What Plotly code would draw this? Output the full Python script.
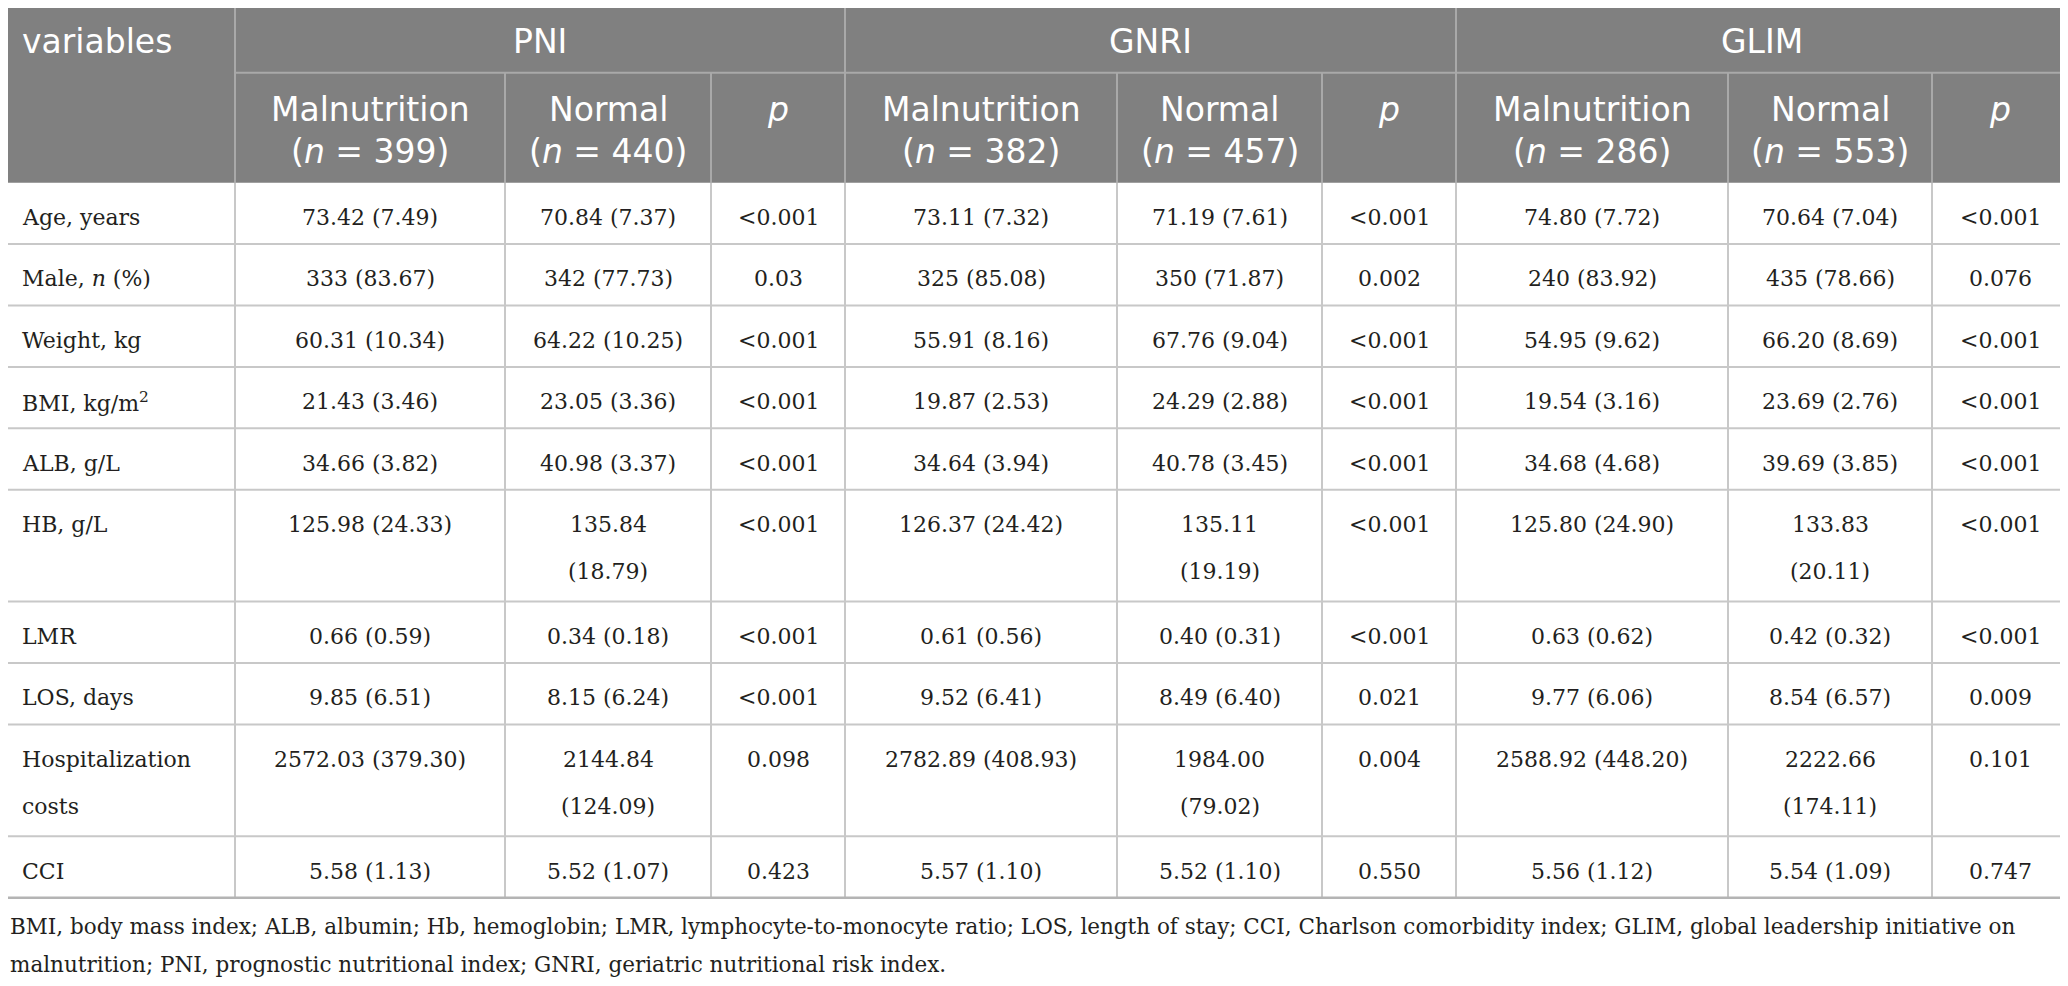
import re

import plotly.graph_objects as go

# ---- table content -------------------------------------------------------
variables = [
    "Age, years",
    "Male, <i>n</i> (%)",
    "Weight, kg",
    "BMI, kg/m<sup>2</sup>",
    "ALB, g/L",
    "HB, g/L",
    "LMR",
    "LOS, days",
    "Hospitalization costs",
    "CCI",
]

groups = ["PNI", "GNRI", "GLIM"]
group_n = [[399, 440], [382, 457], [286, 553]]
sub_labels = ["Malnutrition", "Normal"]

pni_mal = ["73.42 (7.49)", "333 (83.67)", "60.31 (10.34)", "21.43 (3.46)", "34.66 (3.82)",
           "125.98 (24.33)", "0.66 (0.59)", "9.85 (6.51)", "2572.03 (379.30)", "5.58 (1.13)"]
pni_norm = ["70.84 (7.37)", "342 (77.73)", "64.22 (10.25)", "23.05 (3.36)", "40.98 (3.37)",
            "135.84 (18.79)", "0.34 (0.18)", "8.15 (6.24)", "2144.84 (124.09)", "5.52 (1.07)"]
pni_p = ["<0.001", "0.03", "<0.001", "<0.001", "<0.001",
         "<0.001", "<0.001", "<0.001", "0.098", "0.423"]

gnri_mal = ["73.11 (7.32)", "325 (85.08)", "55.91 (8.16)", "19.87 (2.53)", "34.64 (3.94)",
            "126.37 (24.42)", "0.61 (0.56)", "9.52 (6.41)", "2782.89 (408.93)", "5.57 (1.10)"]
gnri_norm = ["71.19 (7.61)", "350 (71.87)", "67.76 (9.04)", "24.29 (2.88)", "40.78 (3.45)",
             "135.11 (19.19)", "0.40 (0.31)", "8.49 (6.40)", "1984.00 (79.02)", "5.52 (1.10)"]
gnri_p = ["<0.001", "0.002", "<0.001", "<0.001", "<0.001",
          "<0.001", "<0.001", "0.021", "0.004", "0.550"]

glim_mal = ["74.80 (7.72)", "240 (83.92)", "54.95 (9.62)", "19.54 (3.16)", "34.68 (4.68)",
            "125.80 (24.90)", "0.63 (0.62)", "9.77 (6.06)", "2588.92 (448.20)", "5.56 (1.12)"]
glim_norm = ["70.64 (7.04)", "435 (78.66)", "66.20 (8.69)", "23.69 (2.76)", "39.69 (3.85)",
             "133.83 (20.11)", "0.42 (0.32)", "8.54 (6.57)", "2222.66 (174.11)", "5.54 (1.09)"]
glim_p = ["<0.001", "0.076", "<0.001", "<0.001", "<0.001",
          "<0.001", "<0.001", "0.009", "0.101", "0.747"]

footnote_lines = [
    "BMI, body mass index; ALB, albumin; Hb, hemoglobin; LMR, lymphocyte-to-monocyte ratio; "
    "LOS, length of stay; CCI, Charlson comorbidity index; GLIM, global leadership initiative on",
    "malnutrition; PNI, prognostic nutritional index; GNRI, geriatric nutritional risk index.",
]

columns = [variables, pni_mal, pni_norm, pni_p, gnri_mal, gnri_norm, gnri_p,
           glim_mal, glim_norm, glim_p]

# ---- geometry / style ----------------------------------------------------
W, H = 2068, 986
PAGE_MARGIN = 8  # default body margin of the page, axes map straight to page pixels
col_edges = [0, 235, 505, 711, 845, 1117, 1322, 1456, 1728, 1932, 2068]
head_row1, head_bottom = 72.7, 182.7
single_h, extra_line_h = 61.4, 50.5
line_gap = 47
pad = 20
char_w = 12.5

HEAD_BG = "#808080"
HEAD_LINE = "#a9a9a9"
GRID = "#c8c8c8"
BODY_TXT = "#231f20"
HEAD_FONT = "DejaVu Sans"
BODY_FONT = "DejaVu Serif"
head_size = 33
body_size = 22
foot_size = 21.5


def plain_len(s):
    return len(re.sub(r"<[^>]+>", "", s))


def wrap(s, limit):
    if plain_len(s) <= limit or " " not in s:
        return [s]
    head, tail = s.rsplit(" ", 1)
    return [head, tail]


limits = [int((col_edges[i + 1] - col_edges[i] - 2 * pad) / char_w) for i in range(len(columns))]
cells = [[wrap(v, limits[c]) for v in col] for c, col in enumerate(columns)]

n_rows = len(variables)
row_tops = [head_bottom]
for r in range(n_rows):
    n_lines = max(len(cells[c][r]) for c in range(len(columns)))
    row_tops.append(row_tops[-1] + single_h + (n_lines - 1) * extra_line_h)

shapes = []
annotations = []


def line(x0, y0, x1, y1, color, width=2):
    shapes.append(dict(type="line", xref="x", yref="y", x0=x0, y0=y0, x1=x1, y1=y1,
                       line=dict(color=color, width=width)))


# header background
shapes.append(dict(type="rect", xref="x", yref="y", x0=0, x1=W, y0=0, y1=head_bottom,
                   fillcolor=HEAD_BG, line=dict(width=0), layer="below"))
line(col_edges[1], head_row1, W, head_row1, HEAD_LINE)
for i, x in enumerate(col_edges[1:-1], start=1):
    top = 0 if (i - 1) % 3 == 0 else head_row1
    line(x, top, x, head_bottom, HEAD_LINE)

# body grid
for x in col_edges:
    line(x, head_bottom, x, row_tops[-1], GRID)
for y in row_tops[1:-1]:
    line(0, y, W, y, GRID)
line(0, row_tops[-1], W, row_tops[-1], "#b4b4b4", 2.5)


def text(x, y, s, anchor="center", family=BODY_FONT, size=body_size, color=BODY_TXT, **kw):
    annotations.append(dict(x=x, y=y, xref=kw.pop("xref", "x"), yref="y", text=s,
                            showarrow=False, xanchor=anchor, yanchor="middle",
                            font=dict(family=family, size=size, color=color), **kw))


# header text
hy1, hy2a, hy2b = 41.6, 109.6, 151.6
text(pad, hy1, "variables", "left", HEAD_FONT, head_size, "white")
for g, name in enumerate(groups):
    x0 = col_edges[1 + 3 * g]
    x1 = col_edges[4 + 3 * g]
    text((x0 + x1) / 2, hy1, name, "center", HEAD_FONT, head_size, "white")
    for k, lab in enumerate(sub_labels):
        c = 1 + 3 * g + k
        cx = (col_edges[c] + col_edges[c + 1]) / 2
        text(cx, hy2a, lab, "center", HEAD_FONT, head_size, "white")
        text(cx, hy2b, f"(<i>n</i> = {group_n[g][k]})", "center", HEAD_FONT, head_size, "white")
    c = 3 + 3 * g
    text((col_edges[c] + col_edges[c + 1]) / 2, hy2a, "<i>p</i>", "center",
         HEAD_FONT, head_size, "white")

# body text
for c in range(len(columns)):
    for r in range(n_rows):
        for k, part in enumerate(cells[c][r]):
            y = row_tops[r] + 34.7 + k * line_gap
            if c == 0:
                text(col_edges[0] + pad, y, part, "left")
            else:
                text((col_edges[c] + col_edges[c + 1]) / 2, y, part)

# footnote (paper-anchored so it is not hidden at the left edge of the range)
foot_y0 = row_tops[-1] + 29
for k, s in enumerate(footnote_lines):
    text(0, foot_y0 + k * 38, s, "left", BODY_FONT, foot_size, xref="paper")

fig = go.Figure()
fig.update_layout(
    width=W - 2 * PAGE_MARGIN,
    height=H - 2 * PAGE_MARGIN,
    margin=dict(l=0, r=0, t=0, b=0),
    paper_bgcolor="white",
    plot_bgcolor="white",
    xaxis=dict(range=[PAGE_MARGIN, W - PAGE_MARGIN], visible=False, fixedrange=True),
    yaxis=dict(range=[H - PAGE_MARGIN, PAGE_MARGIN], visible=False, fixedrange=True),
    shapes=shapes,
    annotations=annotations,
    showlegend=False,
)

fig.write_html("out.html")
